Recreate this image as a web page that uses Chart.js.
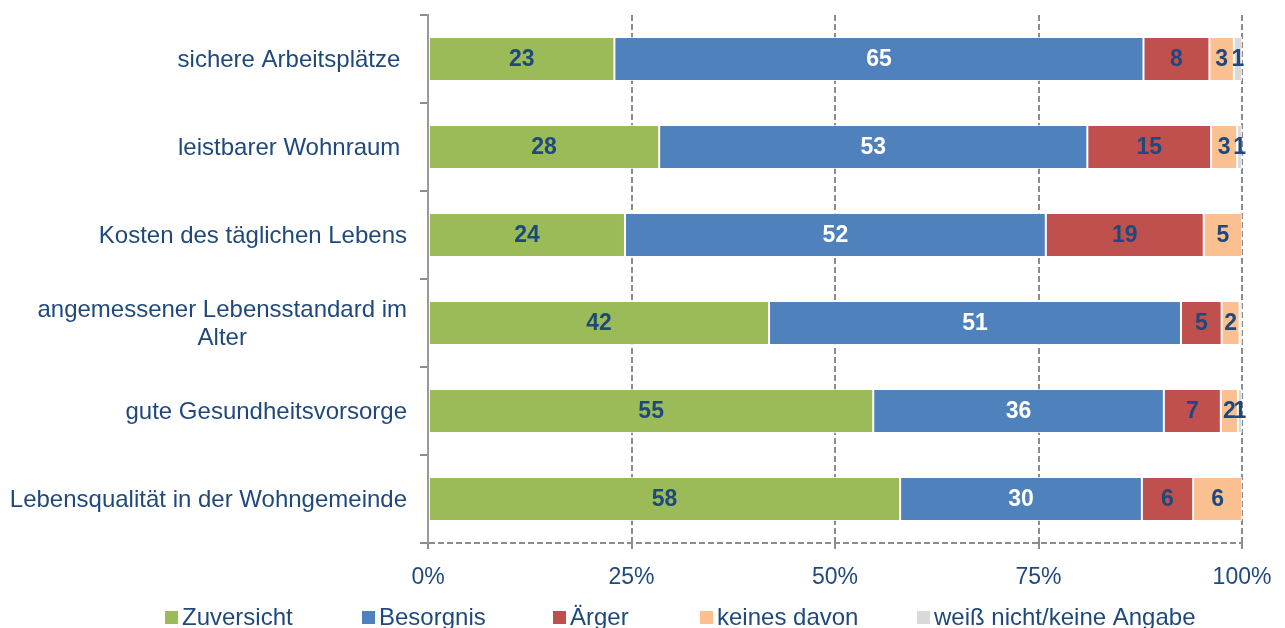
<!DOCTYPE html>
<html>
<head>
<meta charset="utf-8">
<script src="https://cdn.jsdelivr.net/npm/chart.js@4/dist/chart.umd.min.js"></script>
<style>
  html, body { margin: 0; padding: 0; background: #fff; overflow: hidden; }
  #wrap { width: 1285px; height: 628px; position: relative; }
</style>
</head>
<body>
<div id="wrap"><canvas id="c"></canvas></div>
<script>
// ---- data ----
const categories = [
  'sichere Arbeitsplätze ',
  'leistbarer Wohnraum ',
  'Kosten des täglichen Lebens',
  ['angemessener Lebensstandard im', 'Alter'],
  'gute Gesundheitsvorsorge',
  'Lebensqualität in der Wohngemeinde'
];
const seriesNames = ['Zuversicht', 'Besorgnis', 'Ärger', 'keines davon', 'weiß nicht/keine Angabe'];
const zuversicht = [22.9, 28.4, 24.2, 41.9, 54.7, 58.0];
const besorgnis  = [65.0, 52.6, 51.7, 50.6, 35.7, 29.7];
const aerger     = [8.1, 15.2, 19.4, 5.0, 7.0, 6.3];
const keines     = [3.0, 3.2, 4.7, 2.2, 2.1, 6.0];
const weissNicht = [1.0, 0.6, 0.0, 0.3, 0.5, 0.0];
const xTicks = [0, 25, 50, 75, 100];

const colors = ['#9BBB59', '#4F81BD', '#C0504D', '#FAC090', '#D9D9D9'];
const labelColors = ['#1F497D', '#FFFFFF', '#1F497D', '#1F497D', '#1F497D'];
const textColor = '#1F497D';
const gridGray = '#8C8C8C';
const FONT = '"Liberation Sans", Arial, sans-serif';
const seriesValues = [zuversicht, besorgnis, aerger, keines, weissNicht];

const datasets = seriesValues.map((vals, i) => ({
  label: seriesNames[i],
  data: vals,
  backgroundColor: colors[i],
  borderColor: 'rgba(255,255,255,0.75)',
  borderWidth: 1,
  borderSkipped: false,
  barPercentage: 0.5,
  categoryPercentage: 1.0
}));

const valueLabels = {
  id: 'valueLabels',
  afterDatasetsDraw(chart) {
    const ctx = chart.ctx;
    ctx.save();
    ctx.font = 'bold 23px ' + FONT;
    ctx.textAlign = 'center';
    ctx.textBaseline = 'middle';
    chart.data.datasets.forEach((ds, di) => {
      const meta = chart.getDatasetMeta(di);
      meta.data.forEach((bar, i) => {
        const v = Math.round(ds.data[i]);
        if (!v) return;
        const p = bar.getProps(['x', 'base', 'y'], true);
        ctx.fillStyle = labelColors[di];
        ctx.fillText(String(v), (p.x + p.base) / 2, p.y + 1);
      });
    });
    ctx.restore();
  }
};

const categoryLabels = {
  id: 'categoryLabels',
  afterDraw(chart) {
    const ctx = chart.ctx;
    const ys = chart.scales.y;
    ctx.save();
    ctx.font = '24px ' + FONT;
    ctx.fillStyle = textColor;
    ctx.textAlign = 'center';
    ctx.textBaseline = 'middle';
    const rightEdge = ys.right - 21;
    const lh = 28;
    chart.data.labels.forEach((lab, i) => {
      const lines = Array.isArray(lab) ? lab : [lab];
      const w = Math.max(...lines.map(l => ctx.measureText(l).width));
      const cx = rightEdge - w / 2;
      const cy = ys.getPixelForValue(i);
      const y0 = cy - (lines.length - 1) * lh / 2;
      lines.forEach((l, k) => ctx.fillText(l, cx, y0 + k * lh + 1));
    });
    ctx.restore();
  }
};

const customLegend = {
  id: 'customLegend',
  afterDraw(chart) {
    const ctx = chart.ctx;
    const xs = [165, 362, 553, 700, 917];
    ctx.save();
    ctx.font = '24px ' + FONT;
    ctx.textAlign = 'left';
    ctx.textBaseline = 'alphabetic';
    chart.data.datasets.forEach((ds, i) => {
      ctx.fillStyle = ds.backgroundColor;
      ctx.fillRect(xs[i], 611, 13, 13);
      ctx.fillStyle = textColor;
      ctx.fillText(ds.label, xs[i] + 17, 625);
    });
    ctx.restore();
  }
};

new Chart(document.getElementById('c'), {
  type: 'bar',
  data: { labels: categories, datasets },
  plugins: [valueLabels, categoryLabels, customLegend],
  options: {
    indexAxis: 'y',
    responsive: true,
    maintainAspectRatio: false,
    animation: false,
    layout: { padding: { left: 0, right: 43, top: 15, bottom: 0 } },
    plugins: { legend: { display: false }, tooltip: { enabled: false } },
    scales: {
      x: {
        stacked: true,
        min: 0, max: 100,
        afterBuildTicks(scale) { scale.ticks = xTicks.map(v => ({ value: v })); },
        afterFit(scale) { scale.height = 85; scale.paddingLeft = 0; scale.paddingRight = 0; },
        ticks: {
          callback: v => v + '%',
          color: textColor,
          font: { family: FONT, size: 23 },
          padding: 15,
          maxRotation: 0
        },
        grid: {
          color: gridGray,
          lineWidth: 2,
          drawTicks: true,
          tickLength: 6,
          tickColor: gridGray,
          tickBorderDash: []
        },
        border: { display: false, dash: [6, 3] }
      },
      y: {
        stacked: true,
        afterFit(scale) { scale.width = 428; },
        ticks: { display: false },
        grid: {
          offset: true,
          drawOnChartArea: true,
          drawTicks: true,
          tickLength: 8,
          color: c => (c.type === 'tick' ? 'rgba(0,0,0,0)' : gridGray),
          tickColor: gridGray,
          lineWidth: 2
        },
        border: { display: true, color: '#999999', width: 2, dash: [6, 3] }
      }
    }
  }
});
</script>
</body>
</html>
